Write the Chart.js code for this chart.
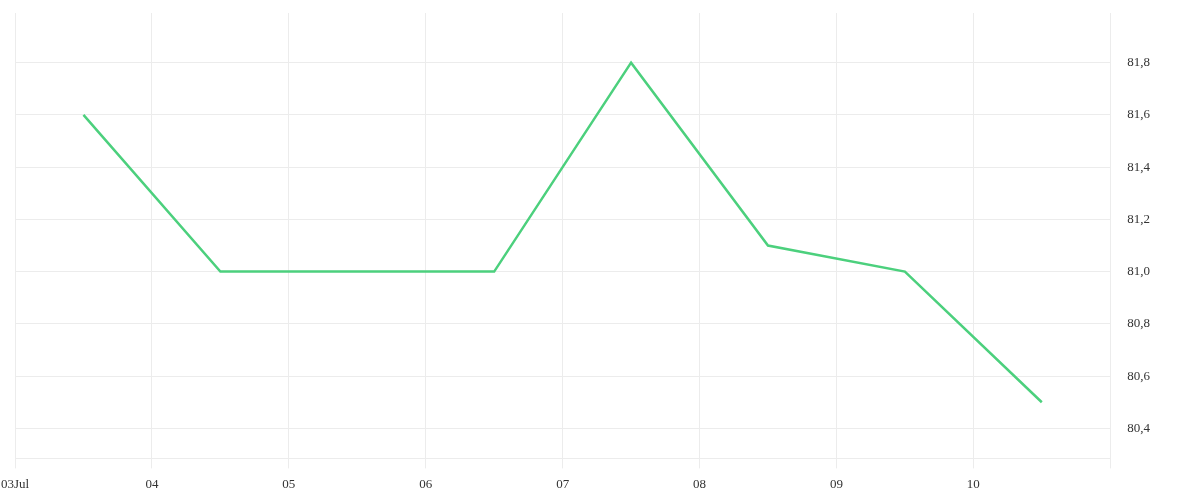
<!DOCTYPE html>
<html>
<head>
<meta charset="utf-8">
<script src="https://cdn.jsdelivr.net/npm/chart.js@4"></script>
<style>
  html, body { margin: 0; padding: 0; background: #fff; }
  #wrap { width: 1200px; height: 500px; }
</style>
</head>
<body>
<div id="wrap"><canvas id="chart"></canvas></div>
<script>
// days in July, points sit at midday
const days = [3.5, 4.5, 5.5, 6.5, 7.5, 8.5, 9.5, 10.5];
const values = [81.6, 81.0, 81.0, 81.0, 81.8, 81.1, 81.0, 80.5];
const dayTicks = [3, 4, 5, 6, 7, 8, 9, 10, 11];
const dayLabels = ["03Jul", "04", "05", "06", "07", "08", "09", "10", ""];
const yTicks = [80.4, 80.6, 80.8, 81.0, 81.2, 81.4, 81.6, 81.8];

const gridColor = "#ececec";
const textColor = "#333";
const font = { family: "Liberation Serif", size: 13 };

new Chart(document.getElementById("chart"), {
  type: "line",
  data: {
    datasets: [{
      data: days.map((d, i) => ({ x: d, y: values[i] })),
      borderColor: "#4cd07d",
      borderWidth: 2.5,
      pointRadius: 0,
      tension: 0,
      fill: false
    }]
  },
  options: {
    responsive: true,
    maintainAspectRatio: false,
    animation: false,
    layout: { padding: { left: 0, top: 0, right: 33, bottom: 0 } },
    plugins: {
      legend: { display: false },
      tooltip: { enabled: false }
    },
    scales: {
      x: {
        type: "linear",
        min: 3,
        max: 11,
        afterBuildTicks: axis => { axis.ticks = dayTicks.map(v => ({ value: v })); },
        // keep the plot edge where the reference has it
        afterFit: scale => { scale.paddingLeft = 15; scale.paddingRight = 0; },
        ticks: {
          color: textColor,
          font: font,
          maxRotation: 0,
          autoSkip: false,
          padding: 8,
          callback: (v) => dayLabels[dayTicks.indexOf(v)]
        },
        grid: { color: gridColor, tickLength: 10 },
        border: { color: gridColor }
      },
      y: {
        position: "right",
        min: 80.285,
        max: 81.99,
        afterBuildTicks: axis => { axis.ticks = yTicks.map(v => ({ value: v })); },
        afterFit: scale => { scale.paddingTop = 13; scale.paddingBottom = 0; },
        ticks: {
          color: textColor,
          font: font,
          padding: 17,
          callback: (v) => v.toFixed(1).replace(".", ",")
        },
        grid: { color: gridColor, drawTicks: false },
        border: { color: gridColor }
      }
    }
  }
});
</script>
</body>
</html>
